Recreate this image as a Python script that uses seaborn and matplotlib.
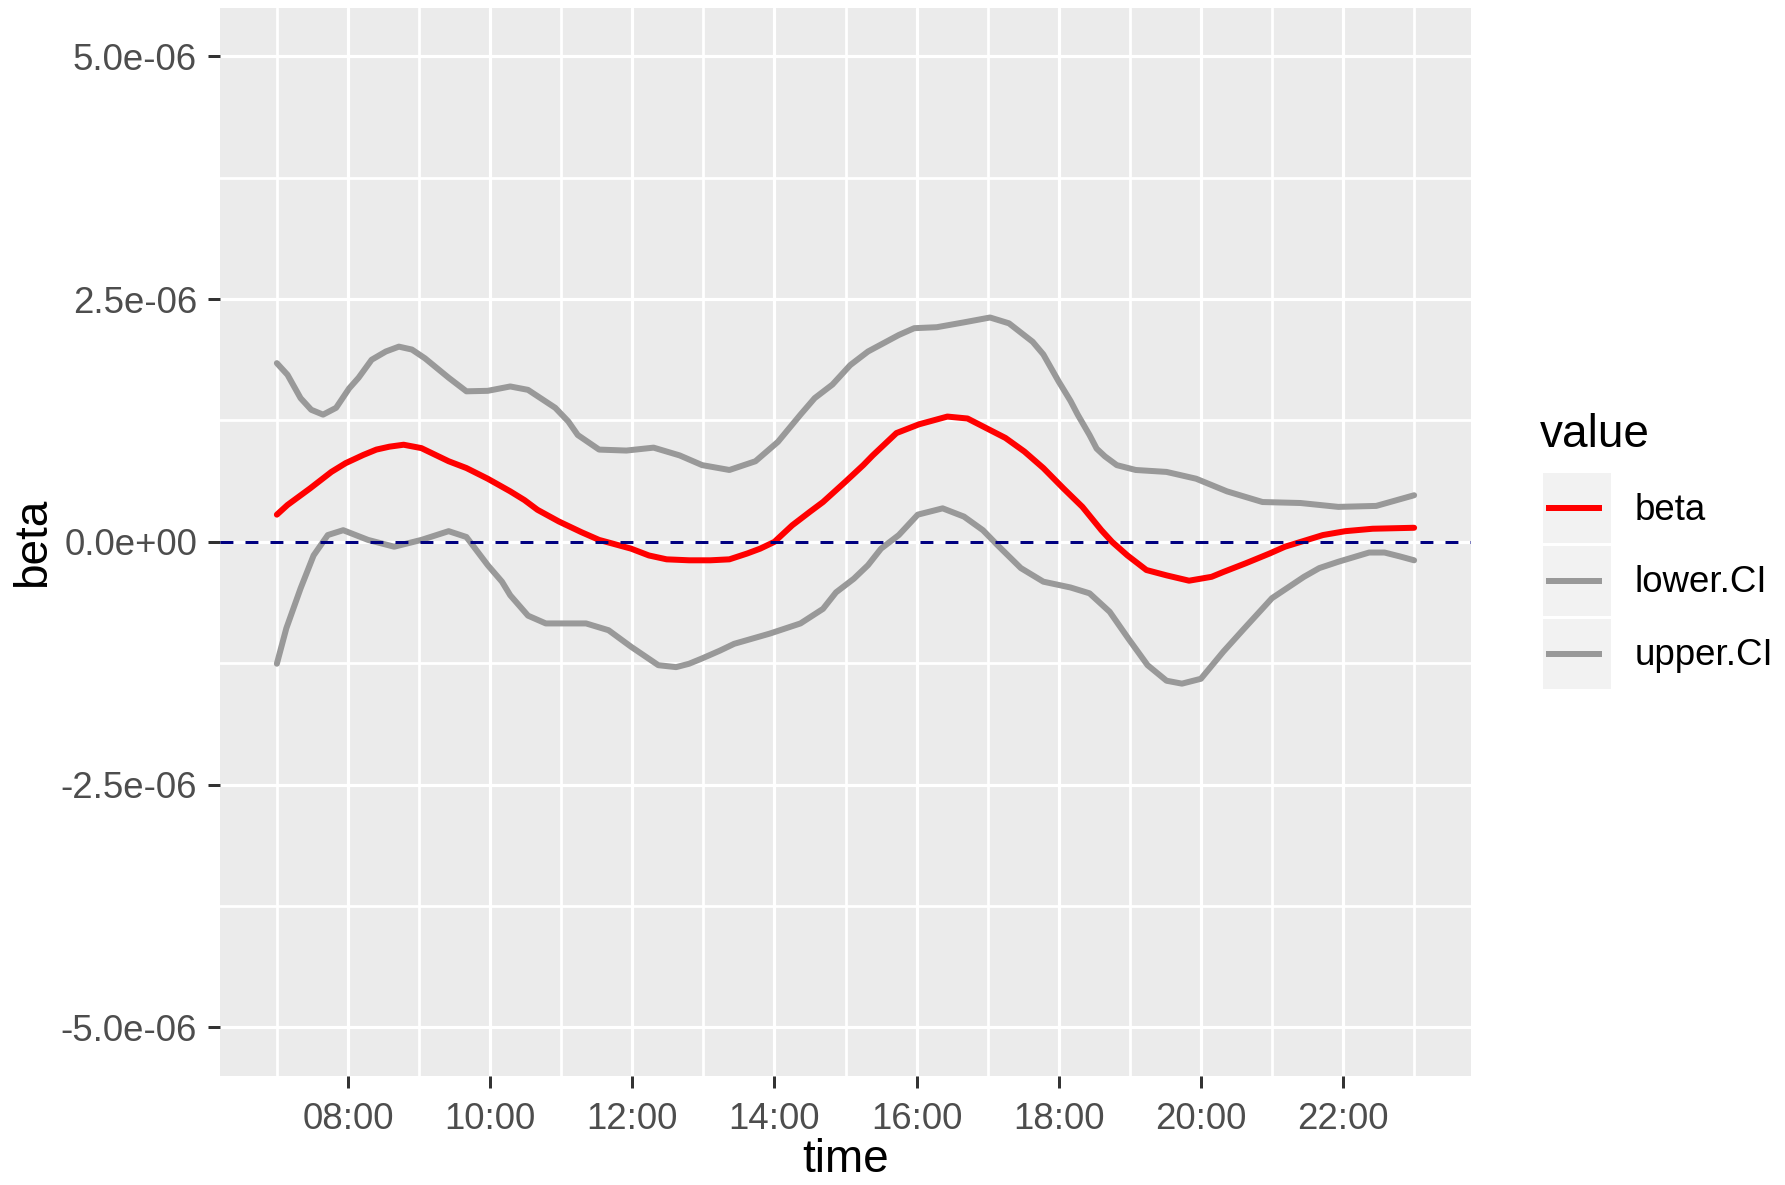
import numpy as np
import pandas as pd
import matplotlib
matplotlib.use("Agg")
import matplotlib.pyplot as plt
import matplotlib.dates as mdates
from matplotlib.ticker import FuncFormatter, FixedLocator
from matplotlib.patches import Rectangle
import seaborn as sns

# ---------------- data (values in units of 1e-6) ----------------
beta_time = ['07:00', '07:09', '07:28', '07:46', '07:58', '08:13', '08:24', '08:35',
             '08:47', '09:02', '09:25', '09:40', '09:58', '10:17', '10:29', '10:40',
             '10:58', '11:17', '11:32', '11:59', '12:14', '12:29', '12:48', '13:06',
             '13:22', '13:37', '13:48', '14:00', '14:15', '14:30', '14:41', '15:00',
             '15:15', '15:23', '15:43', '16:02', '16:26', '16:43', '16:59', '17:15',
             '17:31', '17:47', '18:04', '18:20', '18:36', '18:45', '18:58', '19:14',
             '19:31', '19:50', '20:09', '20:19', '20:38', '20:58', '21:11', '21:27',
             '21:43', '22:02', '22:25', '23:00']
beta_vals = [0.28, 0.38, 0.55, 0.72, 0.81, 0.895, 0.95, 0.98,
             1.00, 0.965, 0.83, 0.76, 0.65, 0.52, 0.43, 0.33,
             0.21, 0.10, 0.02, -0.07, -0.14, -0.18, -0.19, -0.19,
             -0.18, -0.12, -0.07, 0.00, 0.17, 0.31, 0.41, 0.62,
             0.79, 0.89, 1.12, 1.21, 1.29, 1.27, 1.17, 1.07,
             0.93, 0.76, 0.55, 0.36, 0.12, 0.00, -0.14, -0.29,
             -0.345, -0.40, -0.36, -0.31, -0.22, -0.12, -0.05, 0.01,
             0.07, 0.11, 0.135, 0.145]

upper_time = ['07:00', '07:09', '07:20', '07:29', '07:39', '07:50', '08:01', '08:09',
              '08:20', '08:32', '08:43', '08:54', '09:05', '09:17', '09:25', '09:40',
              '09:58', '10:17', '10:32', '10:55', '11:06', '11:14', '11:32', '11:55',
              '12:18', '12:40', '12:59', '13:22', '13:44', '14:03', '14:22', '14:34',
              '14:49', '15:04', '15:19', '15:45', '15:58', '16:17', '16:40', '17:02',
              '17:18', '17:38', '17:47', '18:00', '18:10', '18:16', '18:26', '18:32',
              '18:39', '18:49', '19:05', '19:31', '19:56', '20:22', '20:52', '21:24',
              '21:56', '22:28', '23:00']
upper_vals = [1.84, 1.72, 1.48, 1.36, 1.31, 1.38, 1.58, 1.69,
              1.875, 1.96, 2.01, 1.98, 1.89, 1.77, 1.69, 1.55,
              1.555, 1.60, 1.565, 1.38, 1.24, 1.10, 0.95, 0.94,
              0.97, 0.89, 0.79, 0.74, 0.83, 1.03, 1.31, 1.48,
              1.62, 1.82, 1.96, 2.13, 2.20, 2.21, 2.26, 2.31,
              2.25, 2.06, 1.93, 1.65, 1.45, 1.31, 1.10, 0.96,
              0.88, 0.79, 0.74, 0.72, 0.65, 0.52, 0.41, 0.40,
              0.36, 0.37, 0.48]

lower_time = ['07:00', '07:08', '07:20', '07:31', '07:43', '07:56', '08:17', '08:39',
              '09:02', '09:25', '09:40', '09:58', '10:10', '10:17', '10:32', '10:47',
              '11:21', '11:40', '11:59', '12:22', '12:37', '12:48', '12:59', '13:14',
              '13:26', '13:56', '14:22', '14:41', '14:52', '15:07', '15:19', '15:30',
              '15:45', '16:01', '16:22', '16:40', '16:56', '17:08', '17:28', '17:47',
              '18:10', '18:26', '18:43', '18:59', '19:15', '19:31', '19:44', '20:00',
              '20:19', '20:36', '21:00', '21:27', '21:40', '21:56', '22:22', '22:35',
              '22:48', '23:00']
lower_vals = [-1.255, -0.89, -0.48, -0.14, 0.07, 0.12, 0.02, -0.05,
              0.02, 0.11, 0.05, -0.24, -0.41, -0.55, -0.76, -0.84,
              -0.84, -0.91, -1.08, -1.27, -1.29, -1.255, -1.20, -1.12,
              -1.05, -0.945, -0.84, -0.69, -0.52, -0.38, -0.24, -0.07,
              0.07, 0.28, 0.345, 0.26, 0.12, -0.03, -0.27, -0.41,
              -0.47, -0.53, -0.72, -1.00, -1.27, -1.43, -1.46, -1.41,
              -1.13, -0.90, -0.58, -0.36, -0.27, -0.205, -0.11, -0.11,
              -0.15, -0.19]

series_names = ['beta', 'lower.CI', 'upper.CI']
series_colors = ['#FF0000', '#999999', '#999999']
value_scale = 1e-6

y_ticks = [-5e-6, -2.5e-6, 0.0, 2.5e-6, 5e-6]
y_minor = [-3.75e-6, -1.25e-6, 1.25e-6, 3.75e-6]
x_major = ['08:00', '10:00', '12:00', '14:00', '16:00', '18:00', '20:00', '22:00']
x_minor = ['07:00', '09:00', '11:00', '13:00', '15:00', '17:00', '19:00', '21:00', '23:00']


def to_dt(t):
    return pd.Timestamp('2020-01-01 ' + t)


frames = []
for name, times, vals in [('beta', beta_time, beta_vals),
                          ('lower.CI', lower_time, lower_vals),
                          ('upper.CI', upper_time, upper_vals)]:
    frames.append(pd.DataFrame({
        'time': [to_dt(t) for t in times],
        'beta': np.array(vals) * value_scale,
        'value': name,
    }))
df = pd.concat(frames, ignore_index=True)

# ---------------- style ----------------
sns.set_theme(style='white')
plt.rcParams['font.family'] = ['Liberation Sans', 'DejaVu Sans']
plt.rcParams['lines.scale_dashes'] = False

W, H = 1785, 1185
fig = plt.figure(figsize=(W / 300, H / 300), dpi=300)
fig.patch.set_facecolor('white')

px_l, px_r, px_t, px_b = 220, 1471, 7.7, 1076
ax = fig.add_axes([px_l / W, (H - px_b) / H, (px_r - px_l) / W, (px_b - px_t) / H])
ax.set_facecolor('#EBEBEB')
for s in ax.spines.values():
    s.set_visible(False)

palette = dict(zip(series_names, series_colors))
sns.lineplot(data=df, x='time', y='beta', hue='value', hue_order=series_names,
             palette=palette, linewidth=1.44, estimator=None, errorbar=None,
             legend=False, ax=ax, zorder=3)
for ln in ax.get_lines():
    ln.set_solid_joinstyle('round')

ax.axhline(0, color='#000080', linewidth=0.72, dashes=(3.1, 2.9), zorder=4)

ax.set_xlim(to_dt('06:12'), to_dt('23:48'))
ax.set_ylim(-5.5e-6, 5.5e-6)

ax.xaxis.set_major_locator(FixedLocator([mdates.date2num(to_dt(t)) for t in x_major]))
ax.xaxis.set_minor_locator(FixedLocator([mdates.date2num(to_dt(t)) for t in x_minor]))
ax.xaxis.set_major_formatter(mdates.DateFormatter('%H:%M'))
ax.yaxis.set_major_locator(FixedLocator(y_ticks))
ax.yaxis.set_minor_locator(FixedLocator(y_minor))
ax.yaxis.set_major_formatter(FuncFormatter(lambda v, p: '%.1e' % v))

ax.set_axisbelow(True)
ax.grid(which='major', color='white', linewidth=0.75)
ax.grid(which='minor', color='white', linewidth=0.65)

ax.tick_params(which='major', length=2.9, width=0.72, color='#333333',
               labelcolor='#4D4D4D', labelsize=8.8, pad=2.6,
               bottom=True, left=True)
ax.tick_params(axis='x', which='major', pad=3.3)
ax.tick_params(which='minor', length=0, bottom=False, left=False)

ax.set_xlabel('time', fontsize=11, color='black')
ax.set_ylabel('beta', fontsize=11, color='black')
ax.xaxis.set_label_coords(0.5, -(1138 - px_b) / (px_b - px_t))
ax.yaxis.set_label_coords((54.7 - px_l) / (px_r - px_l), 0.5)

# ---------------- legend (drawn in pixel space) ----------------
lax = fig.add_axes([0, 0, 1, 1], zorder=5)
lax.set_xlim(0, W)
lax.set_ylim(H, 0)
lax.axis('off')
lax.text(1540, 447, 'value', fontsize=11, color='black', ha='left', va='baseline')
key_x0, key_w, key_h, key_step, key_y0 = 1543.4, 68, 69.5, 72.8, 473.4
for i, (name, col) in enumerate(zip(series_names, series_colors)):
    y0 = key_y0 + i * key_step
    yc = y0 + key_h / 2
    lax.add_patch(Rectangle((key_x0, y0), key_w, key_h, facecolor='#F2F2F2', edgecolor='none'))
    lax.plot([1546.4, 1602.3], [yc, yc], color=col, linewidth=1.44, solid_capstyle='butt')
    lax.text(1635, yc + 2, name, fontsize=8.8, color='black', ha='left', va='center')

fig.savefig('out.png', dpi=300)
